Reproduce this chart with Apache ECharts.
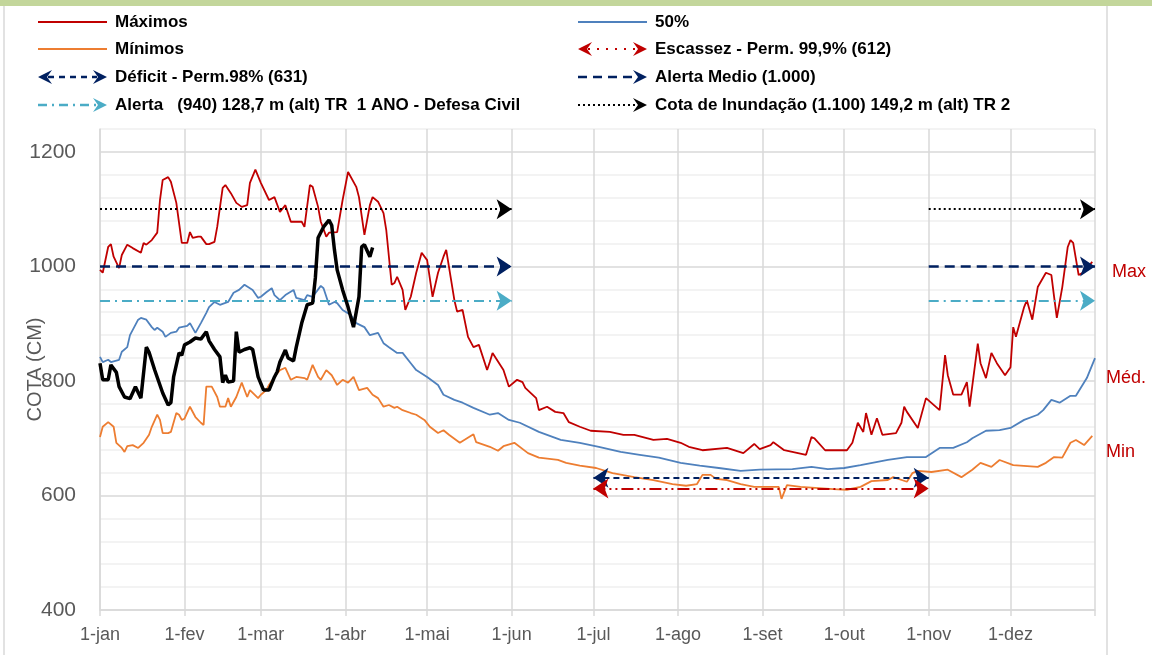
<!DOCTYPE html>
<html>
<head>
<meta charset="utf-8">
<script src="https://cdn.jsdelivr.net/npm/echarts@6/dist/echarts.min.js"></script>
<style>
  html, body { margin: 0; padding: 0; background: #fff; }
  #chart { width: 1152px; height: 655px; }
</style>
</head>
<body>
<div id="chart"></div>
<script>
// eixo x: dias do ano (0 = 1-jan)
const monthLabels = ['1-jan', '1-fev', '1-mar', '1-abr', '1-mai', '1-jun', '1-jul', '1-ago', '1-set', '1-out', '1-nov', '1-dez']
const monthStarts = [0, 31, 59, 90, 120, 151, 181, 212, 243, 273, 304, 334]
const yearEnd = 365

// cotas (cm): [dia, cota]
const maxData = [[0,994],[1,989],[3,1034],[4,1039],[5,1017],[7,997],[8,1020],[10,1038],[12,1032],[15,1024],[16,1041],[17,1038],[19,1046],[21,1059],[22,1116],[23,1151],[25,1156],[26,1148],[28,1111],[30,1041],[32,1041],[33,1060],[34,1050],[36,1052],[37,1052],[39,1039],[40,1039],[42,1043],[43,1069],[45,1137],[46,1142],[48,1128],[50,1111],[52,1104],[54,1107],[55,1146],[57,1169],[59,1146],[62,1116],[64,1121],[66,1095],[68,1107],[70,1078],[74,1078],[75,1069],[77,1142],[78,1139],[80,1104],[81,1078],[83,1052],[84,1059],[87,1060],[89,1116],[91,1165],[94,1139],[95,1121],[97,1055],[99,1107],[100,1121],[102,1113],[104,1093],[105,1064],[107,968],[108,971],[109,982],[111,959],[112,924],[114,947],[116,989],[118,1024],[120,1011],[122,947],[124,989],[126,1017],[127,1029],[130,941],[131,921],[133,924],[135,877],[137,859],[139,863],[142,819],[143,833],[144,849],[148,819],[150,790],[153,802],[155,798],[156,788],[160,770],[161,749],[164,755],[167,746],[170,744],[172,728],[176,720],[180,713],[187,711],[192,706],[196,706],[203,697],[208,699],[213,692],[216,685],[221,679],[230,683],[236,674],[240,690],[242,681],[246,688],[247,693],[251,679],[259,671],[261,702],[262,700],[266,679],[274,679],[276,692],[278,727],[280,711],[281,744],[283,706],[285,735],[287,706],[292,709],[294,727],[295,755],[296,746],[300,718],[303,770],[308,749],[310,845],[311,810],[313,776],[316,776],[318,798],[319,755],[322,865],[323,831],[325,805],[327,849],[329,831],[332,810],[334,824],[335,894],[336,877],[339,929],[340,941],[342,907],[344,964],[347,989],[349,985],[350,947],[351,910],[353,964],[355,1034],[356,1046],[357,1041],[359,985],[361,990],[362,997],[364,1008]]

const medData = [[0,842],[1,833],[3,837],[4,833],[7,837],[8,851],[10,859],[11,880],[14,907],[15,910],[17,907],[19,894],[20,889],[21,893],[23,886],[24,877],[26,884],[28,886],[29,893],[32,896],[33,901],[35,884],[37,901],[39,919],[40,929],[42,938],[44,933],[47,938],[49,954],[51,959],[53,968],[56,959],[58,945],[59,947],[61,955],[63,962],[64,950],[66,941],[68,950],[71,959],[72,945],[75,941],[76,950],[78,947],[81,966],[82,962],[84,933],[86,938],[87,936],[89,924],[92,915],[94,901],[97,894],[99,880],[102,884],[104,866],[106,859],[109,849],[111,849],[114,831],[116,819],[120,807],[124,793],[126,776],[130,767],[133,762],[137,753],[143,741],[146,744],[150,732],[154,727],[161,711],[169,697],[176,692],[183,685],[191,676],[198,671],[205,666],[213,657],[220,652],[227,648],[235,643],[242,645],[254,646],[261,650],[267,646],[273,648],[279,653],[289,662],[296,667],[303,667],[308,683],[313,683],[318,693],[320,700],[325,713],[330,714],[334,718],[339,732],[344,741],[346,749],[349,767],[352,762],[356,774],[358,774],[362,805],[365,840]]

const minData = [[0,702],[1,720],[3,728],[5,720],[6,692],[8,683],[9,676],[10,686],[12,688],[14,683],[16,692],[18,706],[19,720],[21,741],[22,732],[23,709],[25,709],[26,711],[28,744],[29,741],[30,732],[31,734],[33,755],[35,737],[37,727],[38,723],[39,790],[41,790],[43,772],[44,755],[46,755],[47,770],[48,755],[50,772],[52,797],[54,772],[55,784],[58,770],[59,776],[61,784],[62,793],[64,807],[66,819],[68,823],[70,802],[72,807],[75,805],[76,802],[78,828],[80,807],[81,802],[83,819],[85,810],[87,793],[89,802],[91,797],[93,807],[95,784],[98,788],[100,776],[102,770],[104,755],[106,758],[108,753],[109,755],[111,749],[114,744],[116,741],[119,732],[121,720],[124,709],[126,714],[128,706],[132,692],[137,707],[138,693],[143,685],[146,678],[148,686],[152,692],[157,674],[161,666],[168,662],[171,657],[176,652],[182,648],[188,639],[196,632],[203,627],[210,620],[215,617],[219,620],[221,636],[224,636],[226,629],[230,627],[235,620],[240,615],[246,615],[249,615],[250,594],[252,618],[257,615],[269,611],[274,610],[279,615],[283,625],[289,627],[291,632],[296,624],[298,639],[300,643],[305,641],[311,645],[316,632],[320,645],[323,657],[327,650],[330,662],[335,653],[344,650],[347,657],[350,667],[353,666],[356,692],[358,697],[361,688],[364,704]]

// ano atual (linha preta)
const obsData = [[0,831],[1,802],[3,802],[4,828],[6,815],[7,790],[9,772],[11,769],[13,790],[15,770],[17,859],[18,850],[20,820],[23,779],[25,758],[26,762],[27,807],[29,849],[30,845],[31,863],[33,868],[35,875],[37,873],[39,886],[40,870],[42,855],[44,842],[45,797],[46,810],[47,798],[49,800],[50,886],[51,850],[53,855],[55,858],[56,855],[58,807],[60,784],[62,784],[64,807],[65,816],[66,833],[68,854],[69,840],[71,835],[72,859],[74,901],[76,933],[78,936],[79,980],[80,1050],[82,1069],[84,1081],[85,1072],[86,1029],[87,994],[89,959],[91,929],[93,894],[95,947],[96,1034],[97,1038],[99,1017],[100,1033]]

// níveis de referência
const floodLevel = 1100
const alertMidLevel = 1000
const alertLevel = 940
const deficitLevel = 631
const scarcityLevel = 612
const wetSpans = [[0, 151], [304, 365]]   // jan-jun e nov-dez
const drySpans = [[181, 304]]             // jul-out

const FONT = '"Liberation Sans", Arial, sans-serif'
const NAVY = '#002060'
const CYAN = '#4bacc6'
const RED = '#c00000'

function refLine(name, level, spans, color, dash, width, symbols) {
    return {
        name: name,
        type: 'line',
        data: [],
        silent: true,
        z: 3,
        markLine: {
            silent: true,
            animation: false,
            symbol: symbols,
            symbolSize: 15,
            label: { show: false },
            lineStyle: { color: color, type: dash, width: width },
            emphasis: { disabled: true },
            data: spans.map(s => [{ coord: [s[0], level] }, { coord: [s[1], level] }])
        }
    }
}

function dataLine(name, data, color, width, z) {
    return {
        name: name,
        type: 'line',
        data: data,
        symbol: 'none',
        z: z,
        lineStyle: { color: color, width: width },
        itemStyle: { color: color },
        emphasis: { disabled: true }
    }
}

// legenda desenhada à mão (ícones com setas)
function arrowPts(tx, ty, dir) {
    const L = 14, W = 7, N = 5
    return [[tx, ty], [tx - dir * L, ty - W], [tx - dir * (L - N), ty], [tx - dir * L, ty + W]]
}

function legendItem(x, y, label, color, width, dash, arrowStart, arrowEnd) {
    const els = []
    const x1 = x + 69
    els.push({
        type: 'line',
        shape: { x1: x + (arrowStart ? 10 : 0), y1: y, x2: x1 - (arrowEnd ? 10 : 0), y2: y },
        style: { stroke: color, lineWidth: width, lineDash: dash }
    })
    if (arrowStart) els.push({ type: 'polygon', shape: { points: arrowPts(x, y, -1) }, style: { fill: color } })
    if (arrowEnd) els.push({ type: 'polygon', shape: { points: arrowPts(x1, y, 1) }, style: { fill: color } })
    els.push({
        type: 'text', x: x + 77, y: y,
        style: { text: label, fill: '#000', font: 'bold 17px ' + FONT, textVerticalAlign: 'middle', verticalAlign: 'middle' }
    })
    return els
}

const legendEls = [].concat(
    legendItem(38, 22, 'Máximos', RED, 2, null, false, false),
    legendItem(38, 49, 'Mínimos', '#ed7d31', 2, null, false, false),
    legendItem(38, 77, 'Déficit - Perm.98% (631)', NAVY, 2.5, [6, 5], true, true),
    legendItem(38, 105, 'Alerta   (940) 128,7 m (alt) TR  1 ANO - Defesa Civil', CYAN, 2.5, [9, 5, 2, 5], false, true),
    legendItem(578, 22, '50%', '#4f81bd', 2, null, false, false),
    legendItem(578, 49, 'Escassez - Perm. 99,9% (612)', RED, 2, [2, 7], true, true),
    legendItem(578, 77, 'Alerta Medio (1.000)', NAVY, 2.5, [9, 6], false, true),
    legendItem(578, 105, 'Cota de Inundação (1.100) 149,2 m (alt) TR 2', '#000', 2, [2, 3], false, true)
)

const chart = echarts.init(document.getElementById('chart'))
chart.setOption({
    animation: false,
    grid: { left: 100, right: 57, top: 129, bottom: 45 },
    xAxis: {
        type: 'value',
        min: 0,
        max: yearEnd,
        axisLine: { show: true, onZero: false, lineStyle: { color: '#d9d9d9', width: 1.5 } },
        axisTick: { show: true, customValues: monthStarts.concat([yearEnd]), length: 6, lineStyle: { color: '#d9d9d9', width: 1.5 } },
        axisLabel: {
            customValues: monthStarts,
            formatter: v => monthLabels[monthStarts.indexOf(v)],
            fontSize: 18, fontFamily: FONT, color: '#595959', margin: 16
        },
        splitLine: { show: true, lineStyle: { color: '#d9d9d9', width: 1.5 } }
    },
    yAxis: {
        type: 'value',
        min: 400,
        max: 1240,
        interval: 40,
        name: 'COTA (CM)',
        nameLocation: 'middle',
        nameGap: 55,
        nameMoveOverlap: false,
        nameTextStyle: { fontSize: 20, fontFamily: FONT, color: '#595959' },
        axisLine: { show: true, lineStyle: { color: '#d9d9d9', width: 1.5 } },
        axisTick: { show: false },
        axisLabel: {
            fontSize: 21, fontFamily: FONT, color: '#595959', margin: 24,
            formatter: v => (v % 200 === 0 ? String(v) : '')
        },
        splitLine: { lineStyle: { color: ['#d9d9d9', '#efefef', '#efefef', '#efefef', '#efefef'], width: 1.5 } }
    },
    series: [
        refLine('Cota de Inundação', floodLevel, wetSpans, '#000', [2, 3], 2, ['none', 'arrow']),
        refLine('Alerta Medio', alertMidLevel, wetSpans, NAVY, [10, 6], 2.5, ['none', 'arrow']),
        refLine('Alerta', alertLevel, wetSpans, CYAN, [10, 5, 2, 5], 2, ['none', 'arrow']),
        refLine('Déficit', deficitLevel, drySpans, NAVY, [6, 4], 2, ['arrow', 'arrow']),
        refLine('Escassez', scarcityLevel, drySpans, RED, [12, 4, 2, 4, 2, 4], 2, ['arrow', 'arrow']),
        dataLine('Mínimos', minData, '#ed7d31', 1.8, 4),
        dataLine('50%', medData, '#4f81bd', 1.8, 4),
        dataLine('Máximos', maxData, RED, 1.8, 4),
        dataLine('Atual', obsData, '#000', 3.5, 5)
    ],
    graphic: [
        { type: 'rect', shape: { x: 0, y: 0, width: 1152, height: 6 }, style: { fill: '#c3d69b' } },
        { type: 'line', shape: { x1: 4, y1: 6, x2: 4, y2: 655 }, style: { stroke: '#d9d9d9', lineWidth: 1.5 } },
        { type: 'line', shape: { x1: 1107, y1: 6, x2: 1107, y2: 655 }, style: { stroke: '#d9d9d9', lineWidth: 1.5 } },
        { type: 'text', x: 1112, y: 272, style: { text: 'Max', fill: RED, font: '18px ' + FONT, textVerticalAlign: 'middle', verticalAlign: 'middle' } },
        { type: 'text', x: 1106, y: 378, style: { text: 'Méd.', fill: RED, font: '18px ' + FONT, textVerticalAlign: 'middle', verticalAlign: 'middle' } },
        { type: 'text', x: 1106, y: 452, style: { text: 'Min', fill: RED, font: '18px ' + FONT, textVerticalAlign: 'middle', verticalAlign: 'middle' } }
    ].concat(legendEls)
})
</script>
</body>
</html>
